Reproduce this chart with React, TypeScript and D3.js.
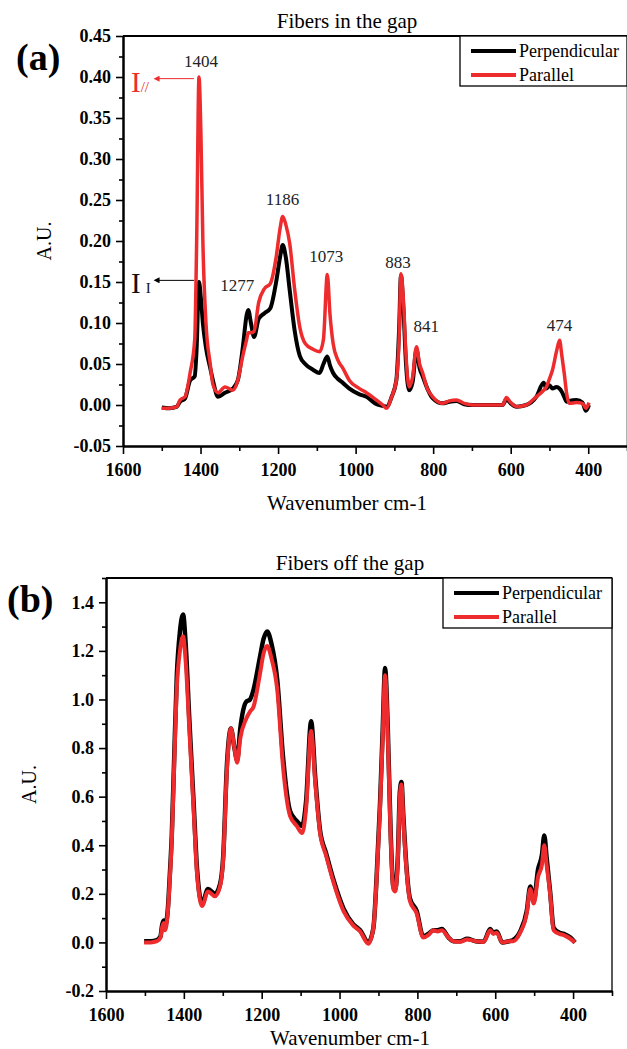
import * as d3 from "d3";
import { useEffect, useRef } from "react";

const FONT = "'Liberation Serif', 'Times New Roman', serif";
const RED = "#ee2b2d";

// (a) fibers in the gap: wavenumber (cm-1) and intensity
const waveA = [1500, 1480, 1461, 1453, 1440, 1427, 1415, 1410, 1404, 1399, 1394, 1386, 1375, 1368, 1355, 1337, 1317, 1304, 1291, 1281, 1277, 1270, 1262, 1250, 1235, 1220, 1205, 1195, 1188, 1180, 1170, 1157, 1144, 1130, 1110, 1093, 1083, 1073, 1066, 1058, 1046, 1033, 1016, 990, 972, 946, 930, 920, 907, 895, 888, 883, 877, 870, 862, 853, 843, 835, 827, 815, 801, 776, 758, 740, 720, 698, 660, 621, 611, 600, 585, 560, 534, 515, 508, 500, 492, 482, 474, 468, 462, 455, 449, 430, 415, 406, 398];
const perpA = [-0.003, -0.004, -0.002, 0.004, 0.008, 0.03, 0.035, 0.07, 0.15, 0.13, 0.1, 0.07, 0.045, 0.03, 0.01, 0.015, 0.02, 0.03, 0.07, 0.11, 0.116, 0.1, 0.083, 0.105, 0.112, 0.118, 0.15, 0.18, 0.195, 0.18, 0.14, 0.09, 0.06, 0.05, 0.043, 0.039, 0.05, 0.059, 0.048, 0.039, 0.032, 0.027, 0.02, 0.013, 0.01, 0.001, -0.001, -0.002, 0.01, 0.03, 0.09, 0.158, 0.12, 0.05, 0.018, 0.028, 0.068, 0.045, 0.035, 0.02, 0.008, 0.002, 0.004, 0.005, 0.001, 0, 0, 0, 0.007, 0.002, -0.002, 0, 0.01, 0.027, 0.02, 0.024, 0.02, 0.022, 0.02, 0.016, 0.01, 0.004, 0.005, 0.006, 0.003, -0.007, 0];
const paraA = [-0.004, -0.004, -0.002, 0.006, 0.01, 0.039, 0.08, 0.2, 0.4, 0.33, 0.2, 0.1, 0.05, 0.025, 0.015, 0.022, 0.018, 0.03, 0.06, 0.08, 0.088, 0.088, 0.09, 0.125, 0.142, 0.148, 0.18, 0.215, 0.23, 0.22, 0.197, 0.14, 0.095, 0.075, 0.068, 0.065, 0.08, 0.159, 0.11, 0.075, 0.055, 0.045, 0.03, 0.02, 0.015, 0.006, 0, -0.004, 0.01, 0.03, 0.08, 0.16, 0.13, 0.06, 0.022, 0.034, 0.071, 0.05, 0.039, 0.02, 0.01, 0.002, 0.005, 0.006, 0.002, 0, 0, 0, 0.009, 0.003, -0.002, 0, 0.01, 0.018, 0.022, 0.032, 0.043, 0.065, 0.079, 0.06, 0.039, 0.012, 0.002, 0.003, 0.002, -0.004, 0.003];

// (b) fibers off the gap
const waveB = [1502, 1485, 1469, 1460, 1456, 1452, 1448, 1441, 1436, 1431, 1425, 1418, 1410, 1402, 1395, 1386, 1375, 1366, 1353, 1338, 1320, 1307, 1299, 1289, 1279, 1270, 1263, 1255, 1240, 1230, 1221, 1205, 1195, 1186, 1175, 1160, 1145, 1127, 1110, 1096, 1086, 1073, 1062, 1050, 1035, 1016, 990, 965, 947, 926, 913, 905, 896, 889, 883, 876, 869, 862, 857, 850, 845, 841, 836, 828, 819, 802, 785, 772, 759, 748, 737, 720, 708, 690, 672, 650, 630, 613, 605, 596, 582, 565, 554, 536, 519, 510, 501, 490, 480, 474, 468, 459, 450, 435, 424, 407, 395];
const perpB = [0.005, 0.005, 0.01, 0.025, 0.07, 0.09, 0.07, 0.14, 0.28, 0.44, 0.75, 1.1, 1.28, 1.35, 1.22, 0.92, 0.58, 0.3, 0.16, 0.22, 0.2, 0.24, 0.35, 0.74, 0.88, 0.8, 0.75, 0.88, 0.99, 1.0, 1.04, 1.17, 1.25, 1.28, 1.23, 1.08, 0.76, 0.54, 0.5, 0.48, 0.58, 0.91, 0.67, 0.46, 0.37, 0.26, 0.14, 0.075, 0.05, 0, 0.06, 0.26, 0.57, 0.88, 1.13, 0.88, 0.47, 0.23, 0.22, 0.36, 0.62, 0.66, 0.52, 0.31, 0.18, 0.13, 0.025, 0.035, 0.05, 0.05, 0.055, 0.02, 0.005, 0.005, 0.015, 0.005, 0.003, 0.055, 0.04, 0.045, 0, 0.005, 0.01, 0.045, 0.13, 0.23, 0.17, 0.3, 0.36, 0.44, 0.35, 0.21, 0.06, 0.04, 0.035, 0.02, 0];
const paraB = [0, 0, 0.005, 0.02, 0.06, 0.08, 0.05, 0.13, 0.26, 0.42, 0.72, 1.05, 1.2, 1.26, 1.15, 0.88, 0.55, 0.28, 0.15, 0.21, 0.19, 0.23, 0.34, 0.72, 0.88, 0.8, 0.74, 0.84, 0.92, 0.95, 0.97, 1.1, 1.19, 1.22, 1.17, 1.04, 0.72, 0.52, 0.48, 0.45, 0.55, 0.87, 0.65, 0.45, 0.36, 0.25, 0.13, 0.07, 0.045, -0.005, 0.06, 0.25, 0.55, 0.85, 1.1, 0.85, 0.45, 0.22, 0.21, 0.35, 0.6, 0.65, 0.5, 0.3, 0.17, 0.12, 0.02, 0.03, 0.05, 0.045, 0.05, 0.02, 0.005, 0.003, 0.012, 0.005, 0.002, 0.05, 0.035, 0.04, 0, 0.005, 0.005, 0.04, 0.12, 0.22, 0.16, 0.27, 0.32, 0.4, 0.32, 0.2, 0.05, 0.035, 0.03, 0.015, 0];

const xTicks = [1600, 1400, 1200, 1000, 800, 600, 400];
const xMinor = [1500, 1300, 1100, 900, 700, 500, 300];
const yTicksA = [-0.05, 0, 0.05, 0.1, 0.15, 0.2, 0.25, 0.3, 0.35, 0.4, 0.45];
const yMinorA = [-0.025, 0.025, 0.075, 0.125, 0.175, 0.225, 0.275, 0.325, 0.375, 0.425];
const yTicksB = [-0.2, 0, 0.2, 0.4, 0.6, 0.8, 1.0, 1.2, 1.4];
const yMinorB = [-0.1, 0.1, 0.3, 0.5, 0.7, 0.9, 1.1, 1.3, 1.5];

const seriesNames = ["Perpendicular", "Parallel"];

// peak labels in (a): wavenumber, label baseline (intensity units), x nudge
const peakWn = [1404, 1277, 1186, 1073, 883, 841, 474];
const peakLabelAt = [0.412, 0.139, 0.244, 0.174, 0.167, 0.089, 0.09];
const peakDx = [2, -11, -1, -1, -3, 9, 0];

const drawPanel = (root, p) => {
  const g = root.append("g");
  const x = d3.scaleLinear().domain([1600, 300]).range([p.left, p.right]);
  const y = d3.scaleLinear().domain(p.yDomain).range([p.bottom, p.top]);

  // frame: top and right
  g.append("line").attr("x1", p.left).attr("x2", p.right).attr("y1", p.top).attr("y2", p.top)
    .attr("stroke", "#000").attr("stroke-width", 1.8);
  g.append("line").attr("x1", p.right).attr("x2", p.right).attr("y1", p.top).attr("y2", p.bottom)
    .attr("stroke", p.rightColor).attr("stroke-width", 1.5);

  const styleAxis = (sel) => {
    sel.select(".domain").attr("stroke-width", 2);
    sel.selectAll(".tick line").attr("stroke-width", 1.6);
    sel.selectAll("text")
      .attr("font-family", FONT).attr("font-weight", "bold")
      .attr("font-size", 18).attr("fill", "#000");
  };

  // y axis
  g.append("g").attr("transform", `translate(${p.left},0)`)
    .call(d3.axisLeft(y).tickValues(p.yMinor).tickFormat(() => "").tickSize(4).tickSizeOuter(0))
    .call(styleAxis);
  g.append("g").attr("transform", `translate(${p.left},0)`)
    .call(d3.axisLeft(y).tickValues(p.yTicks).tickFormat((d) => d.toFixed(p.digits)).tickSize(7).tickSizeOuter(0).tickPadding(5))
    .call(styleAxis);

  // x axis
  g.append("g").attr("transform", `translate(0,${p.bottom})`)
    .call(d3.axisBottom(x).tickValues(xMinor).tickFormat(() => "").tickSize(5).tickSizeOuter(0))
    .call(styleAxis);
  g.append("g").attr("transform", `translate(0,${p.bottom})`)
    .call(d3.axisBottom(x).tickValues(xTicks).tickFormat(d3.format("d")).tickSize(8).tickSizeOuter(0).tickPadding(9))
    .call(styleAxis);

  // spectra
  const idx = d3.range(p.wave.length);
  const line = (vals) => d3.line().x((i) => x(p.wave[i])).y((i) => y(vals[i])).curve(d3.curveMonotoneX)(idx);
  g.append("path").attr("d", line(p.perp)).attr("fill", "none").attr("stroke", "#000")
    .attr("stroke-width", p.blackWidth).attr("stroke-linejoin", "round");
  g.append("path").attr("d", line(p.para)).attr("fill", "none").attr("stroke", RED)
    .attr("stroke-width", p.redWidth).attr("stroke-linejoin", "round");

  // titles
  g.append("text").attr("x", p.titleX).attr("y", p.top - 8).attr("text-anchor", "middle")
    .attr("font-family", FONT).attr("font-size", 21).text(p.title);
  g.append("text").attr("x", p.titleX).attr("y", p.xTitleY).attr("text-anchor", "middle")
    .attr("font-family", FONT).attr("font-size", 21).text("Wavenumber cm-1");
  g.append("text").attr("transform", `translate(${p.yTitleX},${(p.top + p.bottom) / 2}) rotate(-90)`)
    .attr("text-anchor", "middle").attr("dominant-baseline", "middle")
    .attr("font-family", FONT).attr("font-size", 20).text("A.U.");
  g.append("text").attr("x", p.tagX).attr("y", p.tagY).attr("font-family", FONT)
    .attr("font-weight", "bold").attr("font-size", 38).text(p.tag);

  // legend
  const lg = g.append("g");
  lg.append("rect").attr("x", p.legLeft).attr("y", p.top).attr("width", p.right - p.legLeft)
    .attr("height", 50).attr("fill", "#fff").attr("stroke", "#000").attr("stroke-width", 1.3);
  seriesNames.forEach((name, i) => {
    const yy = p.top + 15 + i * 24;
    lg.append("line").attr("x1", p.legLeft + 11).attr("x2", p.legLeft + 56).attr("y1", yy).attr("y2", yy)
      .attr("stroke", i === 0 ? "#000" : RED).attr("stroke-width", 4);
    lg.append("text").attr("x", p.legLeft + 59).attr("y", yy + 6).attr("font-family", FONT)
      .attr("font-size", 18).text(name);
  });

  return { g, x, y };
};

const App = () => {
  const ref = useRef(null);

  useEffect(() => {
    const svg = d3.select(ref.current);
    svg.selectAll("*").remove();

    const a = drawPanel(svg, {
      wave: waveA, perp: perpA, para: paraA,
      left: 123, right: 627, top: 36, bottom: 446,
      yDomain: [-0.05, 0.45], yTicks: yTicksA, yMinor: yMinorA, digits: 2,
      title: "Fibers in the gap", titleX: 347, xTitleY: 510, yTitleX: 46,
      tag: "(a)", tagX: 16, tagY: 70, legLeft: 460, rightColor: "#999",
      blackWidth: 4, redWidth: 3.5,
    });

    // peak labels and intensity markers
    peakWn.forEach((wn, i) => {
      a.g.append("text").attr("x", a.x(wn) + peakDx[i]).attr("y", a.y(peakLabelAt[i]))
        .attr("text-anchor", "middle").attr("font-family", FONT).attr("font-size", 17)
        .attr("fill", "#222").text(String(wn));
    });

    const defs = svg.append("defs");
    [["arrRed", RED], ["arrBlack", "#000"]].forEach(([id, c]) => {
      defs.append("marker").attr("id", id).attr("viewBox", "0 0 10 10").attr("refX", 1).attr("refY", 5)
        .attr("markerWidth", 7).attr("markerHeight", 6).attr("orient", "auto-start-reverse")
        .append("path").attr("d", "M0,0 L10,5 L0,10 z").attr("fill", c);
    });

    const arrow = (wn, val, color, marker) => {
      a.g.append("line").attr("x1", a.x(wn) - 5).attr("x2", a.x(wn) - 40)
        .attr("y1", a.y(val)).attr("y2", a.y(val)).attr("stroke", color).attr("stroke-width", 1)
        .attr("marker-end", `url(#${marker})`);
    };
    arrow(1404, 0.398, RED, "arrRed");
    arrow(1404, 0.152, "#000", "arrBlack");

    const iPar = a.g.append("text").attr("x", a.x(1404) - 68).attr("y", a.y(0.4) + 15)
      .attr("font-family", FONT).attr("fill", RED);
    iPar.append("tspan").attr("font-size", 29).text("I");
    iPar.append("tspan").attr("font-size", 15).text("//");
    const iPerp = a.g.append("text").attr("x", a.x(1404) - 68).attr("y", a.y(0.15) + 11)
      .attr("font-family", FONT).attr("fill", "#111");
    iPerp.append("tspan").attr("font-size", 29).text("I");
    iPerp.append("tspan").attr("font-size", 15).attr("dx", 5).text("I");

    drawPanel(svg, {
      wave: waveB, perp: perpB, para: paraB,
      left: 106, right: 612, top: 578, bottom: 991,
      yDomain: [-0.2, 1.5], yTicks: yTicksB, yMinor: yMinorB, digits: 1,
      title: "Fibers off the gap", titleX: 350, xTitleY: 1045, yTitleX: 31,
      tag: "(b)", tagX: 7, tagY: 612, legLeft: 443, rightColor: "#222",
      blackWidth: 4.5, redWidth: 4,
    });
  }, []);

  return (
    <svg ref={ref} width={627} height={1049}
      style={{ position: "absolute", left: 0, top: 0, background: "#fff" }} />
  );
};

export default App;
